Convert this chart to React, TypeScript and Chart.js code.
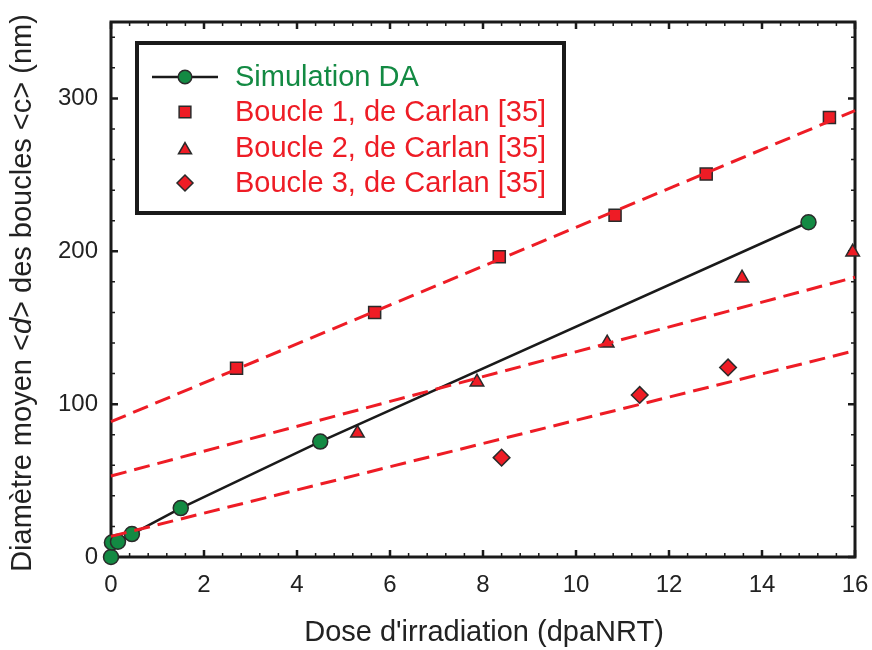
import React, { useEffect, useRef } from 'react';
import { Chart, registerables } from 'chart.js';
import { drawPoint } from 'chart.js/helpers';

Chart.register(...registerables);

// ---- data ----
const simX = [0, 0.02, 0.15, 0.45, 1.5, 4.5, 15.0];
const simY = [0, 9.5, 10, 15, 32, 75.5, 219];

const boucle1X = [2.7, 5.67, 8.35, 10.84, 12.8, 15.45];
const boucle1Y = [123.5, 160, 196.5, 223.5, 250.5, 287.5];

const boucle2X = [5.3, 7.87, 10.67, 13.57, 15.95];
const boucle2Y = [81, 114.5, 140, 182.5, 199.5];

const boucle3X = [8.4, 11.37, 13.27];
const boucle3Y = [65, 106, 124];

// linear fits (dashed): value at x = 0 and x = 16
const fitX = [0, 16];
const fit1Y = [88.5, 292];
const fit2Y = [53, 183];
const fit3Y = [13.5, 135];

const xTickValues = [0, 2, 4, 6, 8, 10, 12, 14, 16];
const yTickValues = [0, 100, 200, 300];
const xMinorStep = 0.4;
const yMinorStep = 20;
const X_MIN = 0, X_MAX = 16, Y_MIN = 0, Y_MAX = 350;

const legendLabels = [
  'Simulation DA',
  'Boucle 1, de Carlan [35]',
  'Boucle 2, de Carlan [35]',
  'Boucle 3, de Carlan [35]',
];
const xTitle = "Dose d'irradiation (dpaNRT)";
// y title segments: [text, italic]
const yTitleParts: [string, boolean][] = [
  ['Diamètre moyen <', false],
  ['d', true],
  ['> des boucles <c> (nm)', false],
];

const RED = '#ee1c25';
const GREEN = '#138a43';
const EDGE = '#2a2a2a';
const FONT = '"Liberation Sans", Arial, sans-serif';

const zip = (xs: number[], ys: number[]) => xs.map((x, i) => ({ x, y: ys[i] }));

const framePlugin = {
  id: 'frameTicks',
  beforeDatasetsDraw(chart: any) {
    const { ctx, chartArea: a, scales } = chart;
    const xs = scales.x, ys = scales.y;
    ctx.save();
    ctx.strokeStyle = '#1a1a1a';
    const major = 7, minor = 4;
    const nx = Math.floor((X_MAX - X_MIN) / xMinorStep + 1e-9);
    for (let i = 0; i <= nx; i++) {
      const v = X_MIN + i * xMinorStep;
      const isMajor = xTickValues.some((t) => Math.abs(t - v) < 1e-6);
      const px = xs.getPixelForValue(v);
      const len = isMajor ? major : minor;
      ctx.lineWidth = isMajor ? 2.5 : 1.5;
      ctx.beginPath();
      ctx.moveTo(px, a.bottom); ctx.lineTo(px, a.bottom - len);
      ctx.moveTo(px, a.top); ctx.lineTo(px, a.top + len);
      ctx.stroke();
    }
    const ny = Math.floor((Y_MAX - Y_MIN) / yMinorStep + 1e-9);
    for (let i = 0; i <= ny; i++) {
      const v = Y_MIN + i * yMinorStep;
      const isMajor = yTickValues.some((t) => Math.abs(t - v) < 1e-6);
      const py = ys.getPixelForValue(v);
      const len = isMajor ? major : minor;
      ctx.lineWidth = isMajor ? 2.5 : 1.5;
      ctx.beginPath();
      ctx.moveTo(a.left, py); ctx.lineTo(a.left + len, py);
      ctx.moveTo(a.right, py); ctx.lineTo(a.right - len, py);
      ctx.stroke();
    }
    ctx.lineWidth = 3;
    ctx.strokeRect(a.left, a.top, a.right - a.left, a.bottom - a.top);
    ctx.restore();
  },
  afterDraw(chart: any) {
    const { ctx, chartArea: a } = chart;
    ctx.save();
    // x title
    ctx.fillStyle = '#222';
    ctx.font = `29px ${FONT}`;
    ctx.textAlign = 'center';
    ctx.textBaseline = 'middle';
    ctx.fillText(xTitle, (a.left + a.right) / 2 + 1, 633);

    // y title with italic d
    ctx.translate(23, 293);
    ctx.rotate(-Math.PI / 2);
    ctx.textBaseline = 'middle';
    ctx.textAlign = 'left';
    const fonts = yTitleParts.map(([, it]) => `${it ? 'italic ' : ''}29px ${FONT}`);
    let total = 0;
    const widths = yTitleParts.map(([t], i) => {
      ctx.font = fonts[i];
      const w = ctx.measureText(t).width;
      total += w;
      return w;
    });
    let cx = -total / 2;
    yTitleParts.forEach(([t], i) => {
      ctx.font = fonts[i];
      ctx.fillText(t, cx, 0);
      cx += widths[i];
    });
    ctx.restore();

    // legend
    ctx.save();
    const bx = 137, by = 43, bw = 427, bh = 170;
    ctx.fillStyle = '#fff';
    ctx.fillRect(bx, by, bw, bh);
    ctx.lineWidth = 4;
    ctx.strokeStyle = '#1a1a1a';
    ctx.strokeRect(bx, by, bw, bh);
    const rowY = [77, 112, 148, 183];
    const mx = 185;
    const tx = 235;
    ctx.font = `29px ${FONT}`;
    ctx.textAlign = 'left';
    ctx.textBaseline = 'middle';
    ctx.strokeStyle = '#1a1a1a';
    ctx.lineWidth = 2.5;
    ctx.beginPath();
    ctx.moveTo(152, rowY[0]); ctx.lineTo(218, rowY[0]);
    ctx.stroke();
    const styles = [
      { pointStyle: 'circle', radius: 6.8, fill: GREEN },
      { pointStyle: 'rect', radius: 8.3, fill: RED },
      { pointStyle: 'triangle', radius: 7.5, fill: RED },
      { pointStyle: 'rectRot', radius: 8, fill: RED },
    ];
    styles.forEach((s, i) => {
      ctx.fillStyle = s.fill;
      ctx.strokeStyle = EDGE;
      ctx.lineWidth = 1.5;
      drawPoint(ctx, { pointStyle: s.pointStyle, radius: s.radius, rotation: 0, borderWidth: 1.5 } as any, mx, rowY[i] + (s.pointStyle === 'triangle' ? 2 : 0));
      ctx.fillStyle = i === 0 ? GREEN : RED;
      ctx.fillText(legendLabels[i], tx, rowY[i] + 1);
    });
    ctx.restore();
  },
};

export default function App() {
  const ref = useRef<HTMLCanvasElement | null>(null);
  useEffect(() => {
    const canvas = ref.current!;
    const dashed = (data: number[]) => ({
      type: 'line' as const,
      data: zip(fitX, data),
      borderColor: RED,
      borderWidth: 3,
      borderDash: [16, 8],
      pointRadius: 0,
      showLine: true,
      fill: false,
      clip: false as any,
    });
    const markers = (xs: number[], ys: number[], style: string, r: number, color: string) => ({
      type: 'line' as const,
      data: zip(xs, ys),
      showLine: false,
      pointStyle: style,
      pointRadius: r,
      pointBackgroundColor: color,
      pointBorderColor: EDGE,
      pointBorderWidth: 1.5,
      clip: false as any,
    });
    const chart = new Chart(canvas, {
      type: 'line',
      data: {
        datasets: [
          dashed(fit1Y),
          dashed(fit2Y),
          dashed(fit3Y),
          {
            type: 'line',
            data: zip(simX, simY),
            borderColor: '#1a1a1a',
            borderWidth: 2.5,
            tension: 0,
            pointRadius: 7.5,
            pointBackgroundColor: GREEN,
            pointBorderColor: EDGE,
            pointBorderWidth: 1.5,
            clip: false as any,
          },
          markers(boucle1X, boucle1Y, 'rect', 8.5, RED),
          markers(boucle2X, boucle2Y, 'triangle', 7.8, RED),
          markers(boucle3X, boucle3Y, 'rectRot', 8.3, RED),
        ] as any,
      },
      options: {
        responsive: false,
        animation: false,
        events: [],
        layout: { padding: { left: 0, right: 17, top: 22, bottom: 0 } },
        plugins: { legend: { display: false }, tooltip: { enabled: false }, title: { display: false } },
        scales: {
          x: {
            type: 'linear',
            min: X_MIN,
            max: X_MAX,
            grid: { display: false, drawTicks: false },
            border: { display: false },
            afterBuildTicks: (s: any) => { s.ticks = xTickValues.map((v) => ({ value: v })); },
            afterFit: (s: any) => { s.height = 93; s.paddingLeft = 0; s.paddingRight = 0; },
            ticks: {
              padding: 14,
              color: '#222',
              font: { family: FONT, size: 24 },
              maxRotation: 0,
              autoSkip: false,
            },
          },
          y: {
            type: 'linear',
            min: Y_MIN,
            max: Y_MAX,
            grid: { display: false, drawTicks: false },
            border: { display: false },
            afterBuildTicks: (s: any) => { s.ticks = yTickValues.map((v) => ({ value: v })); },
            afterFit: (s: any) => { s.width = 111; s.paddingTop = 0; s.paddingBottom = 0; },
            ticks: {
              padding: 13,
              color: '#222',
              font: { family: FONT, size: 24 },
              autoSkip: false,
            },
          },
        },
      },
      plugins: [framePlugin],
    });
    return () => chart.destroy();
  }, []);
  return (
    <div style={{ position: 'absolute', left: 0, top: 0, width: 872, height: 650, background: '#fff' }}>
      <canvas ref={ref} width={872} height={650} style={{ width: 872, height: 650, display: 'block' }} />
    </div>
  );
}
